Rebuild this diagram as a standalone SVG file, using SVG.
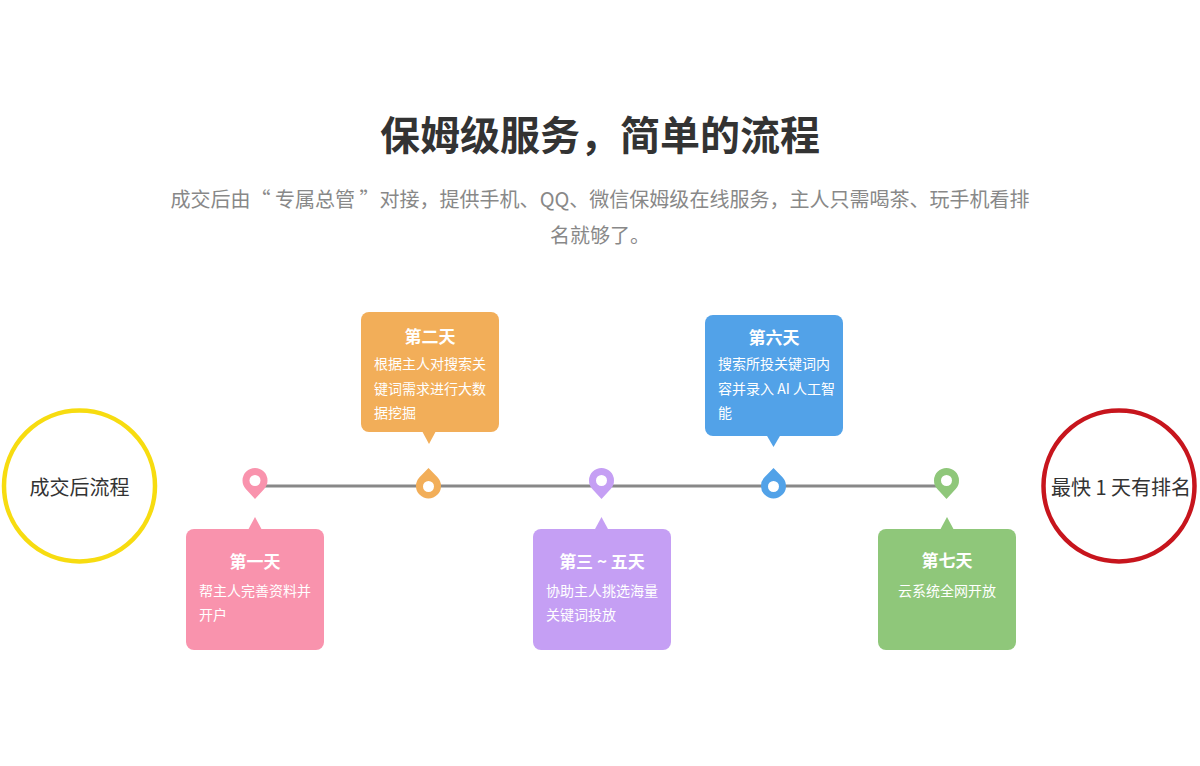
<svg xmlns="http://www.w3.org/2000/svg" width="1200" height="766" viewBox="0 0 1200 766">
<style>
text{font-family:"Microsoft YaHei","Noto Sans CJK SC","Noto Sans",sans-serif}
.title{font-size:40px;font-weight:bold;fill:#333;text-anchor:middle}
.sub{font-size:20px;fill:#888;text-anchor:middle}
.ring{fill:#fff;stroke-width:4.5}
.ringtxt{font-size:20px;fill:#333;text-anchor:middle}
.bt{font-size:17px;font-weight:bold;fill:#fff;text-anchor:middle}
.bd{font-size:14px;fill:#fff}
.hole{fill:#fff}
.pink{fill:#f993ad}
.orange{fill:#f2ae59}
.purple{fill:#c59ff4}
.blue{fill:#52a2e8}
.green{fill:#8fc77a}
</style>
<rect width="1200" height="766" fill="#fff"/>
<text class="title" x="600" y="150">保姆级服务，简单的流程</text>
<text class="sub" x="600" y="206.5" textLength="859" lengthAdjust="spacing">成交后由“ 专属总管 ”对接，提供手机、QQ、微信保姆级在线服务，主人只需喝茶、玩手机看排</text>
<text class="sub" x="600" y="242.5">名就够了。</text>

<g id="connectors">
<line x1="255" y1="486" x2="946" y2="486" stroke="#888" stroke-width="3"/>
</g>

<g id="start">
<circle class="ring" cx="79.5" cy="486" r="75.5" stroke="#f7dc10"/>
<text class="ringtxt" x="79.5" y="494.5">成交后流程</text>
</g>

<g id="end">
<circle class="ring" cx="1119" cy="486" r="75.5" stroke="#c7151d"/>
<text class="ringtxt" x="1121" y="494.5">最快 1 天有排名</text>
</g>

<g id="day1">
<path class="pink" d="M255,499 L245.8,489 A12.5,12.5 0 1 1 264.2,489 Z"/>
<circle class="hole" cx="255" cy="480.5" r="5.5"/>
<rect class="pink" x="186" y="529" width="138" height="121" rx="8"/>
<polygon class="pink" points="248,530 255,517 262,530"/>
<text class="bt" x="255" y="568">第一天</text>
<text class="bd" x="199" y="596">帮主人完善资料并</text>
<text class="bd" x="199" y="620">开户</text>
</g>

<g id="day2">
<path class="orange" d="M428.5,468 L437.5,477.3 A12.5,12.5 0 1 1 419.5,477.3 Z"/>
<circle class="hole" cx="428.5" cy="486.5" r="5.5"/>
<rect class="orange" x="361" y="312" width="138" height="120" rx="8"/>
<polygon class="orange" points="422,431 429,444 436,431"/>
<text class="bt" x="430" y="343">第二天</text>
<text class="bd" x="374" y="369">根据主人对搜索关</text>
<text class="bd" x="374" y="394">键词需求进行大数</text>
<text class="bd" x="374" y="418">据挖掘</text>
</g>

<g id="day3to5">
<path class="purple" d="M601.5,499 L592.3,489 A12.5,12.5 0 1 1 610.7,489 Z"/>
<circle class="hole" cx="601.5" cy="480.5" r="5.5"/>
<rect class="purple" x="533" y="529" width="138" height="121" rx="8"/>
<polygon class="purple" points="594.5,530 601.5,517 608.5,530"/>
<text class="bt" x="602" y="568">第三 ~ 五天</text>
<text class="bd" x="546" y="596">协助主人挑选海量</text>
<text class="bd" x="546" y="620">关键词投放</text>
</g>

<g id="day6">
<path class="blue" d="M773.5,468 L782.5,477.3 A12.5,12.5 0 1 1 764.5,477.3 Z"/>
<circle class="hole" cx="773.5" cy="486.5" r="5.5"/>
<rect class="blue" x="705" y="315" width="138" height="121" rx="8"/>
<polygon class="blue" points="766.5,435 773.5,447 780.5,435"/>
<text class="bt" x="774" y="344">第六天</text>
<text class="bd" x="718" y="369">搜索所投关键词内</text>
<text class="bd" x="718" y="394">容并录入 AI 人工智</text>
<text class="bd" x="718" y="418">能</text>
</g>

<g id="day7">
<path class="green" d="M946.5,499 L937.3,489 A12.5,12.5 0 1 1 955.7,489 Z"/>
<circle class="hole" cx="946.5" cy="480.5" r="5.5"/>
<rect class="green" x="878" y="529" width="138" height="121" rx="8"/>
<polygon class="green" points="940,530 947,517 954,530"/>
<text class="bt" x="947" y="567">第七天</text>
<text class="bd" x="947" y="596" text-anchor="middle">云系统全网开放</text>
</g>
</svg>
